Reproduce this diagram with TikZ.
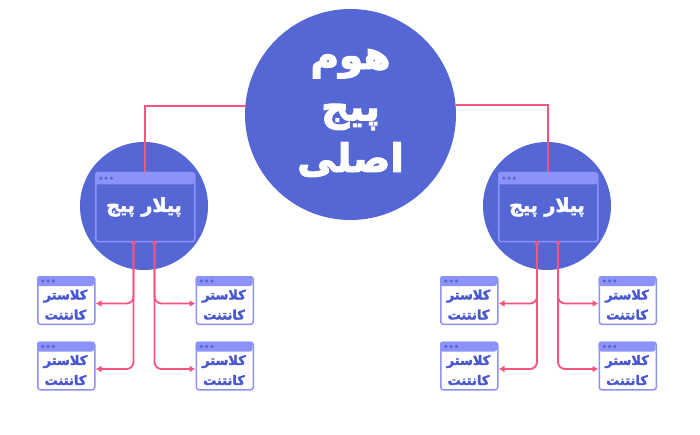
\documentclass[tikz,border=0pt]{standalone}
\usepackage{fontspec}
\usetikzlibrary{arrows.meta,calc}
\TeXXeTstate=1
\newfontfamily\arabicheavy[Script=Arabic,FakeBold=3]{DejaVu Sans Bold}
\newfontfamily\arabicmid[Script=Arabic,FakeBold=2.4]{DejaVu Sans Bold}
\definecolor{disc}{HTML}{5567D5}
\definecolor{head}{HTML}{8D92FA}
\definecolor{pinkline}{HTML}{F7557F}
\definecolor{clustertext}{HTML}{4A58D0}
\definecolor{dotc}{HTML}{5567D5}
\tikzset{
  disc node/.style={circle,fill=disc,draw=none,inner sep=0pt},
  conn/.style={draw=pinkline,line width=1.9pt},
  branch/.style={draw=pinkline,line width=1.9pt,rounded corners=7pt,{Circle[length=4pt]}-{Latex[length=6pt,width=7pt]}},
  pagebox/.style={draw=head,line width=1.5pt,rounded corners=2.5pt,inner sep=0pt,anchor=north west},
  pillartext/.style={text=white,font=\arabicmid\fontsize{19}{22}\selectfont,inner sep=0pt},
  clustertxt/.style={text=clustertext,font=\arabicmid\fontsize{13}{20}\selectfont,align=center,inner sep=0pt},
  maintext/.style={text=white,font=\arabicheavy\fontsize{39}{51.5}\selectfont,align=center,inner sep=0pt},
}
% name, x, y, w, h, header height, dot radius, fill
\newcommand{\pagewin}[8]{%
  \node[pagebox,fill=#8,minimum width=#4pt,minimum height=#5pt] (#1) at (#2,#3) {};
  \fill[head,rounded corners=2.5pt] (#2,#3+#6) -- (#2,#3) -- (#2+#4,#3) -- (#2+#4,#3+#6) -- cycle;
  \foreach \d in {1,2,3}{\fill[dotc] (#2+0.5+5.3*\d,#3+#6*0.5) circle (#7pt);}
}
\newcommand{\clusterwin}[3]{%
  \pagewin{#1}{#2}{#3}{57}{47.5}{10}{1.8}{white}
  \node[clustertxt] (#1t) at ($(#2+28.5,#3+28.5)$) {\beginR کلاستر\endR\\\beginR کانتنت\endR};
}
\begin{document}
\begin{tikzpicture}[x=1pt,y=-1pt]
\useasboundingbox (0,0) rectangle (700,435);
\node[disc node,minimum size=211pt] (hub) at (350.5,114.5) {};
\node[disc node,minimum size=128pt] (pl) at (144,206) {};
\node[disc node,minimum size=128pt] (pr) at (547,206) {};
\pagewin{wl}{95}{172}{99}{69}{12.5}{1.8}{disc}
\pagewin{wr}{498}{172}{99}{69}{12.5}{1.8}{disc}
\coordinate (hl) at (245.5,106);
\coordinate (hr) at (455.5,105);
\draw[conn] (hl) -| (wl.north);
\draw[conn] (hr) -| (wr.north);
\node[maintext] (title) at (350.5,113) {\beginR هوم\endR\\\beginR پیج\endR\\\beginR اصلی\endR};
\node[pillartext] (tl) at (144,207) {\beginR پیلار پیج\endR};
\node[pillartext] (tr) at (547,207) {\beginR پیلار پیج\endR};
\clusterwin{a1}{37}{276}
\clusterwin{a2}{37}{341.5}
\clusterwin{a3}{195.5}{276}
\clusterwin{a4}{195.5}{341.5}
\clusterwin{b1}{440}{276}
\clusterwin{b2}{440}{341.5}
\clusterwin{b3}{598.5}{276}
\clusterwin{b4}{598.5}{341.5}
\coordinate (l1) at (133.5,241);
\coordinate (l2) at (154.5,241);
\coordinate (r1) at (537,241);
\coordinate (r2) at (558,241);
\draw[branch] (l1) |- ($(a1.east)+(0,3)$);
\draw[branch] (l1) |- ($(a2.east)+(0,3)$);
\draw[branch] (l2) |- ($(a3.west)+(0,3)$);
\draw[branch] (l2) |- ($(a4.west)+(0,3)$);
\draw[branch] (r1) |- ($(b1.east)+(0,3)$);
\draw[branch] (r1) |- ($(b2.east)+(0,3)$);
\draw[branch] (r2) |- ($(b3.west)+(0,3)$);
\draw[branch] (r2) |- ($(b4.west)+(0,3)$);
\end{tikzpicture}
\end{document}
